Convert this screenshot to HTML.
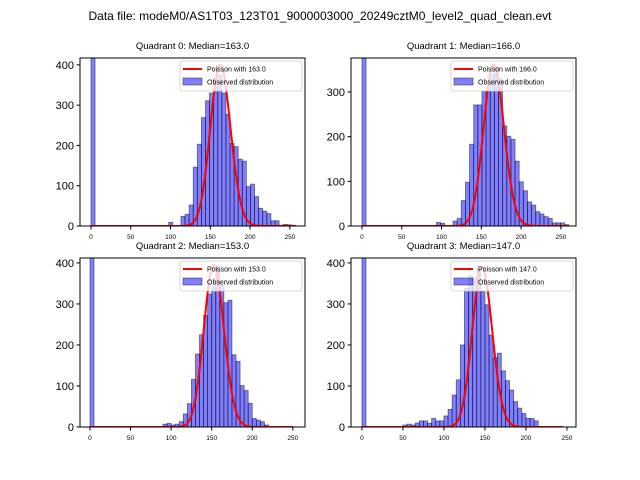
<!DOCTYPE html>
<html><head><meta charset="utf-8"><style>body{margin:0;background:#fff}svg{display:block;font-family:"Liberation Sans",sans-serif}</style></head>
<body>
<svg id="fig" width="640" height="480" viewBox="0 0 640 480">
<text x="320" y="20" text-anchor="middle" font-size="12">Data file: modeM0/AS1T03_123T01_9000003000_20249cztM0_level2_quad_clean.evt</text>
</svg>
<script>
const titles=["Quadrant 0: Median=163.0","Quadrant 1: Median=166.0","Quadrant 2: Median=153.0","Quadrant 3: Median=147.0"];
const medians=[163,166,153,147];
const binWidths=[5.14,5.2,5.0,5.0];
const startBins=[16,18,10,10];
const zeroBin=[1500,1500,1500,1500];
const counts0=[1,1,1,9,0,0,24,29,52,146,203,269,311,330,346,375,330,277,205,197,166,161,98,104,73,44,37,31,13,13,2,4,3,2];
const counts1=[8,6,0,0,11,17,57,98,183,271,271,302,304,340,356,330,224,201,194,145,99,79,54,47,32,27,21,17,7,7,7,3];
const counts2=[0,0,0,0,0,0,0,0,7,9,5,7,13,32,57,116,178,225,272,324,342,390,346,303,309,176,160,101,89,58,21,17,13,5,1];
const counts3=[5,7,5,10,15,15,9,21,15,15,27,43,78,115,200,338,369,362,387,330,298,224,169,180,137,113,90,62,46,33,21,21,15];
const allCounts=[counts0,counts1,counts2,counts3];
const curveScale=[12800,11690,12250,11850];
const curveMax=[257,260,250,245];
const yTicks=[[0,100,200,300,400],[0,100,200,300],[0,100,200,300,400],[0,100,200,300,400]];
const xTicks=[0,50,100,150,200,250];
const yMax=[417,376,412,412];
const xMin=[-13.8,-13.8,-12.3,-13.3];
const xMax=[269,269,265,261];
const boxes=[[80,58,225,168],[351,58,225,168],[80,258,225,169],[351,258,225,169]];
const NS="http://www.w3.org/2000/svg";
const fig=document.getElementById('fig');
function mk(tag,attrs,parent){const e=document.createElementNS(NS,tag);for(const k in attrs)e.setAttribute(k,attrs[k]);parent.appendChild(e);return e;}
function logFact(n){let s=0;for(let i=2;i<=n;i++)s+=Math.log(i);return s;}
for(let q=0;q<4;q++){
  const [L,T,W,H]=boxes[q];
  const sx=v=>L+(v-xMin[q])/(xMax[q]-xMin[q])*W;
  const sy=c=>T+H-c/yMax[q]*H;
  const g=mk('g',{},fig);
  
  
  const cp=mk('clipPath',{id:'c'+q},g);mk('rect',{x:L,y:T,width:W,height:H},cp);
  const t=mk('text',{x:L+W/2,y:T-9,'text-anchor':'middle','font-size':'9.5'},g);t.textContent=titles[q];
  
  
  const bars=mk('g',{'clip-path':'url(#c'+q+')'},g);
  
  
  const bw=binWidths[q];
  const drawBar=(v0,c)=>{if(c<=0)return;const r=mk('rect',{x:sx(v0),y:sy(c),width:sx(v0+bw)-sx(v0),height:sy(0)-sy(c),fill:'rgba(0,0,255,0.5)',stroke:'rgba(0,0,0,0.5)','stroke-width':'0.8'},bars);
    
    };
  drawBar(0,zeroBin[q]);
  allCounts[q].forEach((c,i)=>drawBar((startBins[q]+i)*bw,c));
  let d='';const mu=medians[q];
  for(let k=0;k<=curveMax[q];k++){const p=Math.exp(k*Math.log(mu)-mu-logFact(k))*curveScale[q];d+=(k?'L':'M')+sx(k).toFixed(2)+','+sy(p).toFixed(2);}
  const pl=mk('path',{d:d,fill:'none',stroke:'red','stroke-width':'2','clip-path':'url(#c'+q+')'},g);
  
  
  mk('rect',{x:L,y:T,width:W,height:H,fill:'none',stroke:'#000','stroke-width':'1'},g);
  yTicks[q].forEach(v=>{const y=sy(v);mk('line',{x1:L-3.5,x2:L,y1:y,y2:y,stroke:'#000'},g);
    const tt=mk('text',{x:L-6,y:y+4,'text-anchor':'end','font-size':'11'},g);tt.textContent=v;
    
    });
  xTicks.forEach(v=>{const x=sx(v);mk('line',{x1:x,x2:x,y1:T+H,y2:T+H+3.5,stroke:'#000'},g);
    const tt=mk('text',{x:x,y:T+H+13,'text-anchor':'middle','font-size':'6.5'},g);tt.textContent=v;
    
    });
  const lg=mk('g',{},g);
  
  
  const lx=L+W-125,ly=T+3;
  mk('rect',{x:lx,y:ly,width:122,height:30,fill:'rgba(255,255,255,0.8)',stroke:'#ccc','stroke-width':'0.8',rx:2},lg);
  mk('line',{x1:lx+3,x2:lx+22,y1:ly+8,y2:ly+8,stroke:'red','stroke-width':'2'},lg);
  const l1=mk('text',{x:lx+27,y:ly+10.5,'font-size':'7'},lg);l1.textContent='Poisson with '+medians[q].toFixed(1);
  mk('rect',{x:lx+3,y:ly+17,width:19,height:7,fill:'rgba(0,0,255,0.5)',stroke:'rgba(0,0,0,0.5)','stroke-width':'0.8'},lg);
  const l2=mk('text',{x:lx+27,y:ly+23.5,'font-size':'7'},lg);l2.textContent='Observed distribution';
}
</script>
</body></html>
